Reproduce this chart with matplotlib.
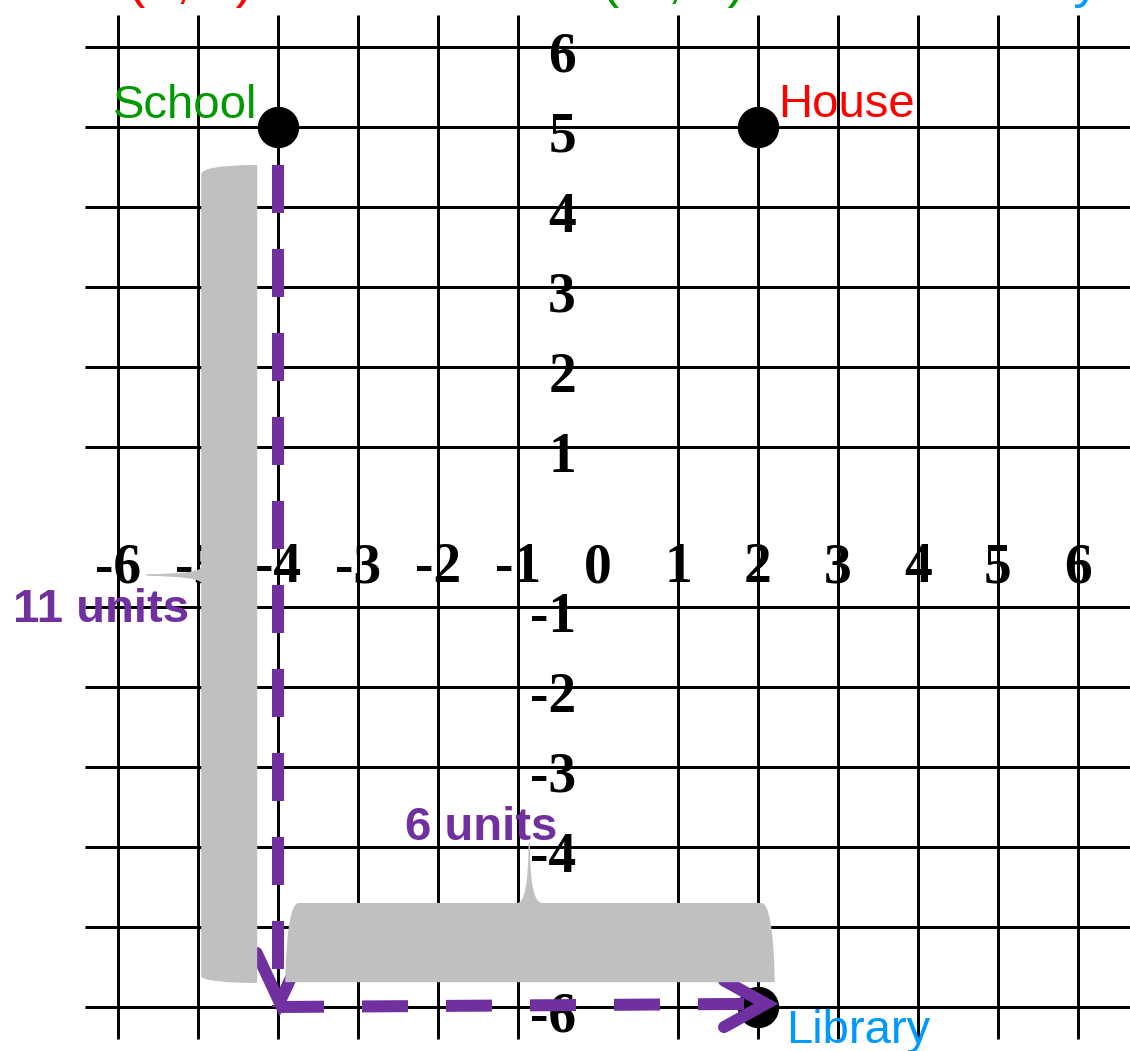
import matplotlib
matplotlib.use("Agg")
import matplotlib.pyplot as plt
from matplotlib.path import Path
from matplotlib.patches import PathPatch
import numpy as np

plt.rcParams['lines.scale_dashes'] = False

# ---------------- data ----------------
grid_ticks = [-6, -5, -4, -3, -2, -1, 0, 1, 2, 3, 4, 5, 6]
x_tick_labels = ["-6", "-5", "-4", "-3", "-2", "-1", "0", "1", "2", "3", "4", "5", "6"]
y_tick_values = [-6, -5, -4, -3, -2, -1, 1, 2, 3, 4, 5, 6]
y_tick_labels = ["-6", "-5", "-4", "-3", "-2", "-1", "1", "2", "3", "4", "5", "6"]

place_names = ["School", "House", "Library"]
place_x = [-4, 2, 2]
place_y = [5, 5, -6]
place_colors = ["#009900", "#FF0000", "#0099FF"]

vertical_units = "11 units"
horizontal_units = "6 units"

top_texts = ["House (2, 5)", "School (-4, 5)", "Library"]
top_colors = ["#FF0000", "#009900", "#0099FF"]

PURPLE = "#7030A0"
GRAY = "#C0C0C0"
PX = 80.0  # pixels per unit

# ---------------- figure ----------------
fig = plt.figure(figsize=(11.3, 10.51), dpi=100)
ax = fig.add_axes([0, 0, 1, 1])
ax.set_xlim(-7.475, 6.65)
ax.set_ylim(-6.55, 6.5875)
ax.axis('off')

def px2pt(p):
    return p * 72.0 / 100.0

# grid
grid_lw = px2pt(3)
ax.vlines([t for t in grid_ticks if t != 0], -6.4, 6.4, colors='black', lw=grid_lw, zorder=1)
ax.hlines([t for t in grid_ticks if t != 0], -6.41, 6.9, colors='black', lw=grid_lw, zorder=1)

# axes with arrows
axis_lw = px2pt(6)
arrow_style = "<|-|>,head_length=14.5,head_width=6.8"
ax.annotate("", xy=(6.85, 0), xytext=(-6.6, 0),
            arrowprops=dict(arrowstyle=arrow_style, lw=axis_lw, color='black',
                            shrinkA=0, shrinkB=0, mutation_scale=1), zorder=2)
ax.annotate("", xy=(0, 6.6), xytext=(0, -6.57),
            arrowprops=dict(arrowstyle=arrow_style, lw=axis_lw, color='black',
                            shrinkA=0, shrinkB=0, mutation_scale=1), zorder=2)

# tick labels
tick_font = dict(family='Liberation Serif', fontweight='bold', fontsize=40, color='black')
for v, lab in zip(grid_ticks, x_tick_labels):
    ax.text(v, -0.69, lab, ha='center', va='baseline', zorder=3, **tick_font)
for v, lab in zip(y_tick_values, y_tick_labels):
    ax.text(-0.275, v - 0.31, lab, ha='right', va='baseline', zorder=3, **tick_font)

# points
ax.plot(place_x, place_y, 'o', color='black', markersize=px2pt(40), zorder=5)

# place labels
label_font = dict(family='Liberation Sans', fontsize=34)
sx, sy = place_x[0], place_y[0]
hx, hy = place_x[1], place_y[1]
lx, ly = place_x[2], place_y[2]
ax.text(sx - 0.26, sy + 0.11, place_names[0], color=place_colors[0], ha='right', va='baseline', zorder=8, **label_font)
ax.text(hx + 0.25, hy + 0.125, place_names[1], color=place_colors[1], ha='left', va='baseline', zorder=8, **label_font)
ax.text(lx + 0.35, ly - 0.45, place_names[2], color=place_colors[2], ha='left', va='baseline', zorder=8, **label_font)

# top texts (mostly cut off by the top edge)
top_right_x = [-4.31, 1.84, 6.28]
for t, c, xr in zip(top_texts, top_colors, top_right_x):
    ax.text(xr, 6.62, t, color=c, ha='right', va='baseline', family='Liberation Sans', fontsize=39, zorder=8)

# purple path: School -> corner -> Library
corner = (sx, ly)
path_lw = px2pt(12)
dash = (px2pt(48), px2pt(36))
ax.plot([sx, corner[0]], [sy - 0.475, corner[1]], color=PURPLE, lw=path_lw,
        dashes=dash, dash_capstyle='butt', zorder=6)
tip_h = (lx + 0.1, ly + 0.04)
ax.plot([corner[0], tip_h[0]], [corner[1], tip_h[1]], color=PURPLE, lw=path_lw,
        dashes=(px2pt(46), px2pt(38)), dash_capstyle='butt', zorder=6)

def chevron(tip, direction, length, half_angle_deg):
    d = np.array(direction, float)
    d /= np.linalg.norm(d)
    a = np.deg2rad(half_angle_deg)
    rot = lambda v, ang: np.array([v[0]*np.cos(ang) - v[1]*np.sin(ang), v[0]*np.sin(ang) + v[1]*np.cos(ang)])
    back = -d
    p1 = np.array(tip) + length * rot(back, a)
    p2 = np.array(tip) + length * rot(back, -a)
    ax.plot([p1[0], tip[0], p2[0]], [p1[1], tip[1], p2[1]], color=PURPLE, lw=path_lw,
            solid_capstyle='round', solid_joinstyle='miter', zorder=6)

chevron((corner[0] + 0.02, corner[1] + 0.06), (0, -1), 0.68, 25)
chevron(tip_h, (1, 0), 0.6, 29)

# gray braces
def left_brace(xl, xr, yt, yb, ys, xtip):
    verts = [(xr, yt), (xl, yt), (xl, yt - 0.12),
             (xl, ys + 0.1),
             (xl, ys + 0.015), (xtip, ys + 0.01),
             (xtip, ys - 0.01),
             (xl - 0.02, ys - 0.02), (xl, ys - 0.1),
             (xl, yb + 0.075),
             (xl + 0.1, yb), (xr, yb),
             (xr, yt)]
    codes = [Path.MOVETO, Path.CURVE3, Path.CURVE3,
             Path.LINETO,
             Path.CURVE3, Path.CURVE3,
             Path.LINETO,
             Path.CURVE3, Path.CURVE3,
             Path.LINETO,
             Path.CURVE3, Path.CURVE3,
             Path.CLOSEPOLY]
    ax.add_patch(PathPatch(Path(verts, codes), facecolor=GRAY, edgecolor='none', zorder=7))

def bottom_brace(xl, xr, yt, yb, xs, ytip):
    verts = [(xl, yb), (xl + 0.02, yt), (xl + 0.17, yt),
             (xs - 0.15, yt),
             (xs - 0.01, yt), (xs - 0.008, ytip),
             (xs + 0.008, ytip),
             (xs + 0.01, yt), (xs + 0.16, yt),
             (xr - 0.17, yt),
             (xr - 0.02, yt), (xr, yb),
             (xl, yb)]
    codes = [Path.MOVETO, Path.CURVE3, Path.CURVE3,
             Path.LINETO,
             Path.CURVE3, Path.CURVE3,
             Path.LINETO,
             Path.CURVE3, Path.CURVE3,
             Path.LINETO,
             Path.CURVE3, Path.CURVE3,
             Path.CLOSEPOLY]
    ax.add_patch(PathPatch(Path(verts, codes), facecolor=GRAY, edgecolor='none', zorder=7))

left_brace(sx - 0.96, sx - 0.26, sy - 0.475, ly + 0.30, -0.6, -5.64)
bottom_brace(sx + 0.09, lx + 0.21, ly + 1.30, ly + 0.31, -0.86, -3.95)

# unit labels
unit_font = dict(family='Liberation Sans', fontweight='bold', fontsize=34, color=PURPLE)
ax.text(-7.31, -1.19, vertical_units, ha='left', va='baseline', zorder=9, **unit_font)
ax.text(-2.41, -3.91, horizontal_units, ha='left', va='baseline', zorder=9, **unit_font)

fig.savefig("out.png", dpi=100)
